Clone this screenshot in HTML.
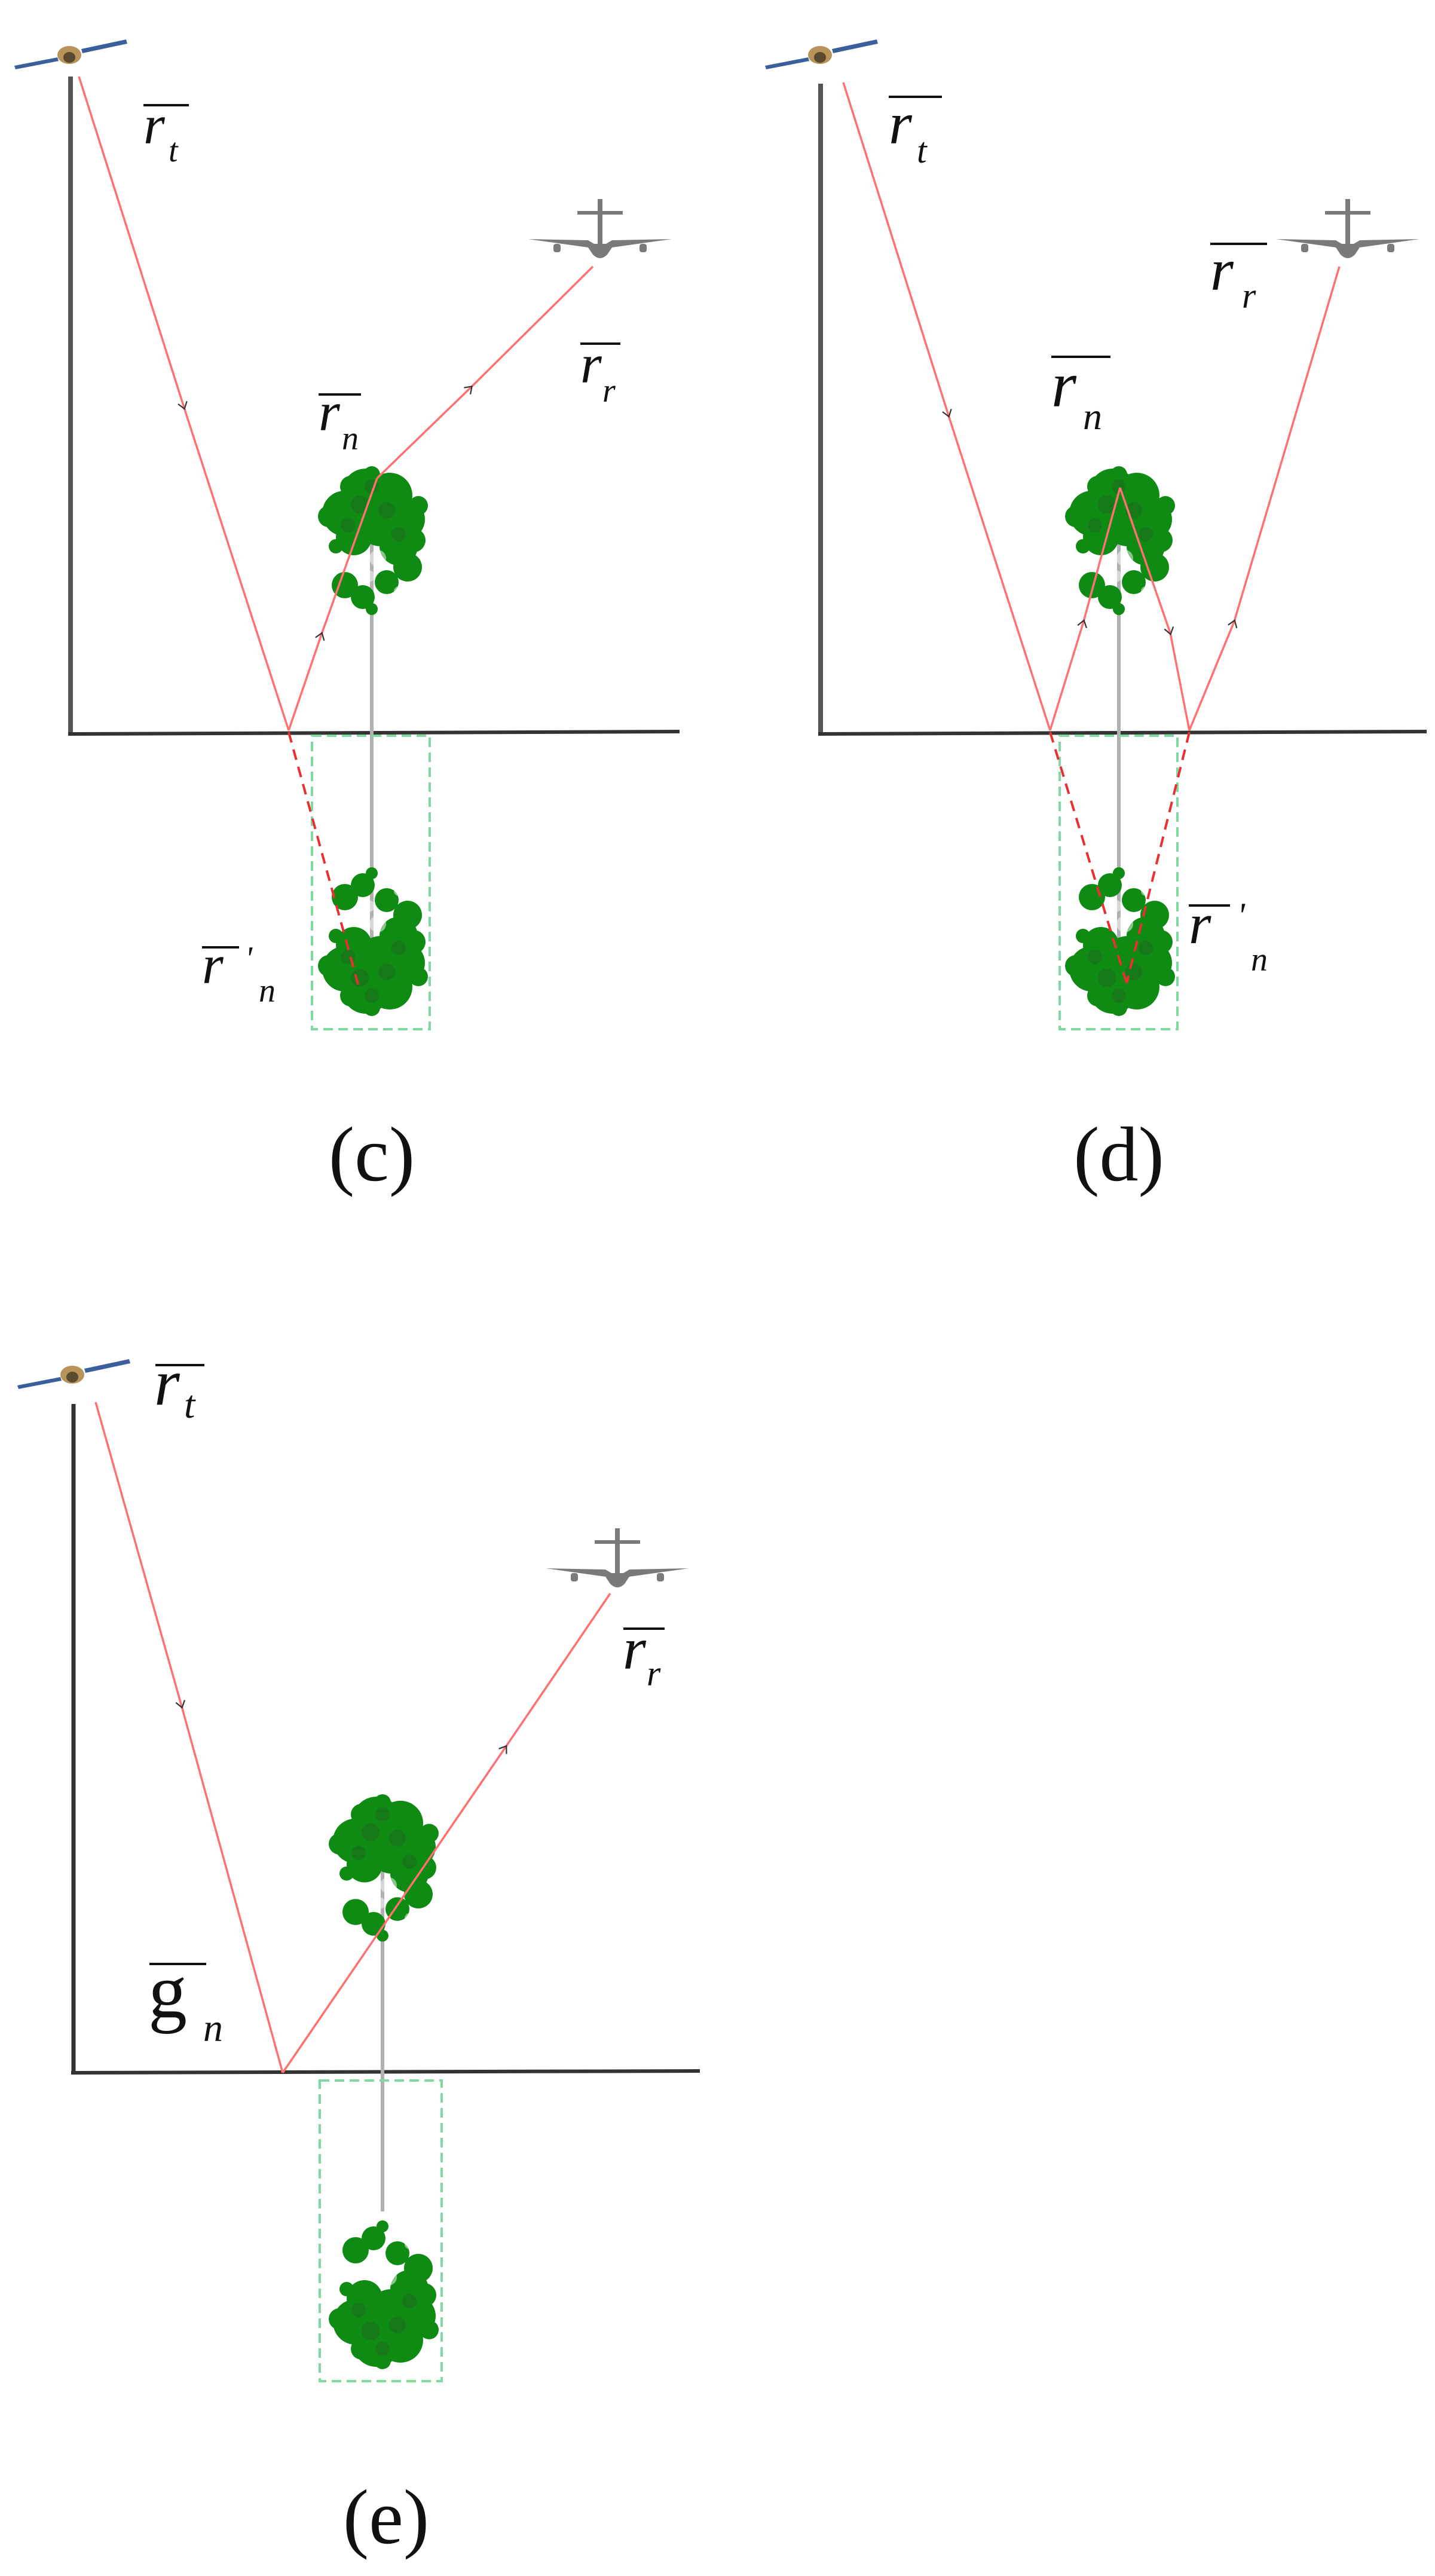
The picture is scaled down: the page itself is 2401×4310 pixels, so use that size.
<!DOCTYPE html>
<html><head><meta charset="utf-8"><style>
html,body{margin:0;padding:0;background:#fff;}
svg{display:block;}
.lab{font-family:"Liberation Serif",serif;font-style:italic;fill:#111;}
.cap{font-family:"Liberation Serif",serif;fill:#111;}
</style></head><body>
<svg width="2401" height="4310" viewBox="0 0 2401 4310" xmlns="http://www.w3.org/2000/svg">
<defs>
<marker id="ar" viewBox="-10 -10 20 20" markerWidth="22" markerHeight="22" markerUnits="userSpaceOnUse" orient="auto">
<path d="M-8,-7 L2,0 L-8,7" fill="none" stroke="#333" stroke-width="2"/>
</marker>
<g id="crown">
<g fill="#0f8a12">
<circle cx="-10" cy="40" r="40"/><circle cx="30" cy="45" r="38"/><circle cx="-45" cy="75" r="38"/>
<circle cx="15" cy="90" r="40"/><circle cx="55" cy="85" r="34"/><circle cx="-30" cy="115" r="30"/>
<circle cx="45" cy="130" r="32"/><circle cx="60" cy="165" r="24"/><circle cx="-45" cy="195" r="22"/>
<circle cx="-15" cy="215" r="20"/><circle cx="25" cy="190" r="20"/><circle cx="-72" cy="80" r="18"/>
<circle cx="78" cy="62" r="16"/><circle cx="70" cy="120" r="20"/><circle cx="-60" cy="130" r="12"/>
<circle cx="0" cy="10" r="14"/><circle cx="-35" cy="30" r="18"/><circle cx="0" cy="235" r="10"/>
</g>
<g fill="#1c6e1c" opacity="0.6">
<circle cx="-20" cy="60" r="15"/><circle cx="25" cy="70" r="14"/><circle cx="-40" cy="95" r="12"/>
<circle cx="45" cy="110" r="12"/><circle cx="0" cy="30" r="12"/>
</g>
<g fill="#fff" opacity="0.5">
<circle cx="10" cy="150" r="14"/><circle cx="-5" cy="180" r="10"/><circle cx="45" cy="205" r="8"/>
</g>
</g>
<g id="tree">
<line x1="0" y1="0" x2="0" y2="912" stroke="#b0b0b0" stroke-width="6"/>
<use href="#crown" transform="translate(0,0)"/>
<use href="#crown" transform="translate(0,912) scale(1,-1)"/>
</g>
<g id="sat">
<path d="M-92,22 L-20,8 L-18,14 L-90,28 Z" fill="#3a5f9a"/>
<path d="M20,-6 L95,-22 L97,-15 L22,1 Z" fill="#3a5f9a"/>
<ellipse cx="0" cy="4" rx="20" ry="15" fill="#b8935a"/>
<ellipse cx="0" cy="8" rx="10" ry="9" fill="#5a4a30"/>
</g>
<g id="plane" fill="#7a7a7a">
<path d="M-120,-8 L-20,-6 L-10,0 L10,0 L20,-6 L120,-8 L20,6 L12,18 Q0,30 -12,18 L-20,6 Z"/>
<rect x="-4" y="-75" width="8" height="75"/>
<rect x="-38" y="-55" width="76" height="6"/>
<rect x="-78" y="0" width="12" height="14" rx="4"/>
<rect x="66" y="0" width="12" height="14" rx="4"/>
</g>
</defs>

<!-- Panel c -->
<g>
<line x1="118" y1="128" x2="118" y2="1230" stroke="#555" stroke-width="8"/>
<line x1="114" y1="1228" x2="1137" y2="1224" stroke="#333" stroke-width="6"/>
<use href="#sat" transform="translate(116,88)"/>
<use href="#plane" transform="translate(1004,408)"/>
<use href="#tree" transform="translate(622,784)"/>
<rect x="522" y="1231" width="197" height="491" fill="none" stroke="#7fd9a0" stroke-width="4" stroke-dasharray="16,9"/>
<polyline points="132,128 308,682 483,1222" fill="none" stroke="#ff7070" stroke-width="3.5" marker-mid="url(#ar)"/>
<polyline points="483,1222 538,1061 631,800" fill="none" stroke="#ff7070" stroke-width="3.5" marker-mid="url(#ar)"/>
<polyline points="631,800 788,648 992,446" fill="none" stroke="#ff7070" stroke-width="3.5" marker-mid="url(#ar)"/>
<line x1="483" y1="1225" x2="600" y2="1650" stroke="#e83030" stroke-width="4" stroke-dasharray="18,12"/>
<line x1="240" y1="176" x2="316" y2="176" stroke="#111" stroke-width="4"/>
<text class="lab" x="240" y="240" font-size="92">r</text><text class="lab" x="282" y="270" font-size="56">t</text>
<line x1="533" y1="660" x2="604" y2="660" stroke="#111" stroke-width="4"/>
<text class="lab" x="533" y="720" font-size="92">r</text><text class="lab" x="572" y="752" font-size="56">n</text>
<line x1="971" y1="575" x2="1038" y2="575" stroke="#111" stroke-width="4"/>
<text class="lab" x="971" y="640" font-size="92">r</text><text class="lab" x="1008" y="672" font-size="56">r</text>
<line x1="338" y1="1585" x2="400" y2="1585" stroke="#111" stroke-width="4"/>
<text class="lab" x="338" y="1645" font-size="92">r</text><text class="lab" x="410" y="1622" font-size="56">'</text><text class="lab" x="433" y="1676" font-size="56">n</text>
<text class="cap" x="622" y="1975" font-size="130" text-anchor="middle">(c)</text>
</g>

<!-- Panel d -->
<g>
<line x1="1373" y1="140" x2="1373" y2="1230" stroke="#555" stroke-width="8"/>
<line x1="1369" y1="1228" x2="2387" y2="1224" stroke="#333" stroke-width="6"/>
<use href="#sat" transform="translate(1372,88)"/>
<use href="#plane" transform="translate(2255,408)"/>
<use href="#tree" transform="translate(1872,784)"/>
<rect x="1773" y="1231" width="197" height="491" fill="none" stroke="#7fd9a0" stroke-width="4" stroke-dasharray="16,9"/>
<polyline points="1411,138 1587,695 1757,1222" fill="none" stroke="#ff7070" stroke-width="3.5" marker-mid="url(#ar)"/>
<polyline points="1757,1222 1813,1040 1874,816" fill="none" stroke="#ff7070" stroke-width="3.5" marker-mid="url(#ar)"/>
<polyline points="1874,816 1958,1059 1990,1222" fill="none" stroke="#ff7070" stroke-width="3.5" marker-mid="url(#ar)"/>
<polyline points="1990,1222 2065,1040 2241,446" fill="none" stroke="#ff7070" stroke-width="3.5" marker-mid="url(#ar)"/>
<line x1="1757" y1="1225" x2="1885" y2="1645" stroke="#e83030" stroke-width="4" stroke-dasharray="18,12"/>
<line x1="1990" y1="1225" x2="1885" y2="1645" stroke="#e83030" stroke-width="4" stroke-dasharray="18,12"/>
<line x1="1487" y1="162" x2="1576" y2="162" stroke="#111" stroke-width="4"/>
<text class="lab" x="1487" y="240" font-size="100">r</text><text class="lab" x="1534" y="272" font-size="60">t</text>
<line x1="2025" y1="408" x2="2120" y2="408" stroke="#111" stroke-width="4"/>
<text class="lab" x="2025" y="485" font-size="100">r</text><text class="lab" x="2078" y="515" font-size="60">r</text>
<line x1="1759" y1="597" x2="1858" y2="597" stroke="#111" stroke-width="4"/>
<text class="lab" x="1759" y="680" font-size="108">r</text><text class="lab" x="1812" y="718" font-size="64">n</text>
<line x1="1989" y1="1515" x2="2058" y2="1515" stroke="#111" stroke-width="4"/>
<text class="lab" x="1989" y="1578" font-size="96">r</text><text class="lab" x="2070" y="1552" font-size="60">'</text><text class="lab" x="2093" y="1624" font-size="56">n</text>
<text class="cap" x="1872" y="1975" font-size="130" text-anchor="middle">(d)</text>
</g>

<!-- Panel e -->
<g>
<line x1="123" y1="2349" x2="123" y2="3470" stroke="#333" stroke-width="7"/>
<line x1="119" y1="3468" x2="1171" y2="3465" stroke="#333" stroke-width="6"/>
<use href="#sat" transform="translate(121,2296)"/>
<use href="#plane" transform="translate(1033,2632)"/>
<use href="#tree" transform="translate(640,3006) scale(1,0.99)"/>
<rect x="535" y="3481" width="204" height="503" fill="#fff" stroke="none"/>
<line x1="640" y1="3468" x2="640" y2="3700" stroke="#b0b0b0" stroke-width="6"/>
<use href="#crown" transform="translate(640,3960) scale(1,-1)"/>
<rect x="535" y="3481" width="204" height="503" fill="none" stroke="#7fd9a0" stroke-width="4" stroke-dasharray="16,9"/>
<polyline points="160,2346 304,2855 473,3468" fill="none" stroke="#ff7070" stroke-width="3.5" marker-mid="url(#ar)"/>
<polyline points="473,3468 846,2923 1021,2666" fill="none" stroke="#ff7070" stroke-width="3.5" marker-mid="url(#ar)"/>
<line x1="260" y1="2284" x2="342" y2="2284" stroke="#111" stroke-width="4"/>
<text class="lab" x="258" y="2350" font-size="110">r</text><text class="lab" x="308" y="2372" font-size="66">t</text>
<line x1="1043" y1="2725" x2="1112" y2="2725" stroke="#111" stroke-width="4"/>
<text class="lab" x="1042" y="2792" font-size="100">r</text><text class="lab" x="1082" y="2820" font-size="60">r</text>
<line x1="250" y1="3286" x2="345" y2="3286" stroke="#111" stroke-width="4"/>
<text class="cap" x="248" y="3375" font-size="130">g</text><text class="lab" x="340" y="3415" font-size="66">n</text>
<text class="cap" x="646" y="4255" font-size="130" text-anchor="middle">(e)</text>
</g>
</svg>
</body></html>
